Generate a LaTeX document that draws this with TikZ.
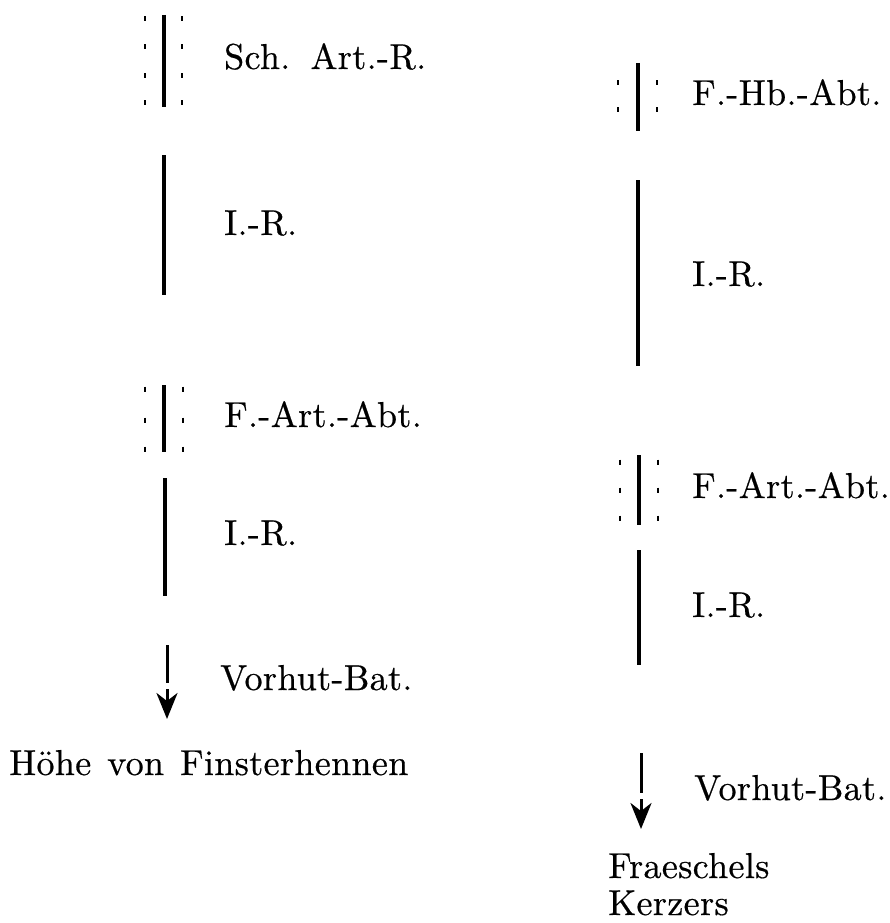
\documentclass[tikz,border=0pt]{standalone}
\usepackage{fontspec}
\newfontfamily\lblfont{lmroman10-regular.otf}[LetterSpace=1,WordSpace=1.3,FakeBold=0.5]
\usetikzlibrary{arrows.meta}
\tikzset{
  unitlbl/.style={anchor=base west, inner sep=0pt, font=\lblfont\fontsize{36}{43}\selectfont},
  troop/.style={line width=3.5pt},
  dotmark/.style={line width=2.2pt},
  march/.style={line width=3pt},
  marchtip/.style={line width=3pt, -{Stealth[length=26pt,width=21pt,inset=8pt]}}
}
\begin{document}
\begin{tikzpicture}[x=1pt,y=-1pt]
\useasboundingbox (0,0) rectangle (889,923);
% ---------- left column ----------
\draw[troop] (164,15) -- (164,107);
\foreach \y in {19,47,76,103}{
  \draw[dotmark] (145,\y-2.5) -- (145,\y+2.5);
  \draw[dotmark] (182,\y-2.5) -- (182,\y+2.5);
}
\node[unitlbl] (l1) at (224,69) {Sch. Art.-R.};

\draw[troop] (164,155) -- (164,295);
\node[unitlbl] (l2) at (224,235) {I.-R.};

\draw[troop] (164,385) -- (164,452);
\foreach \y in {389,420,449}{
  \draw[dotmark] (145,\y-2.5) -- (145,\y+2.5);
  \draw[dotmark] (183,\y-2.5) -- (183,\y+2.5);
}
\node[unitlbl] (l3) at (224,427) {F.-Art.-Abt.};

\draw[troop] (165,478) -- (165,596);
\node[unitlbl] (l4) at (224,545) {I.-R.};

\coordinate (la) at (167,645);
\coordinate (lb) at (167,683);
\coordinate (lc) at (167,689);
\coordinate (ld) at (167,719);
\draw[march] (la) -- (lb);
\draw[marchtip] (lc) -- (ld);
\node[unitlbl] (l5) at (220,690) {Vorhut-Bat.};
\node[unitlbl] (l6) at (9,775) {Höhe von Finsterhennen};

% ---------- right column ----------
\draw[troop] (638,63) -- (638,131);
\foreach \y in {83,110}{
  \draw[dotmark] (618,\y-2.5) -- (618,\y+2.5);
  \draw[dotmark] (657,\y-2.5) -- (657,\y+2.5);
}
\node[unitlbl] (r1) at (692,105) {F.-Hb.-Abt.};

\draw[troop] (638,180) -- (638,366);
\node[unitlbl] (r2) at (692,286) {I.-R.};

\draw[troop] (639,455) -- (639,525);
\foreach \y in {462,490,518}{
  \draw[dotmark] (620,\y-2.5) -- (620,\y+2.5);
  \draw[dotmark] (658,\y-2.5) -- (658,\y+2.5);
}
\node[unitlbl] (r3) at (692,498) {F.-Art.-Abt.};

\draw[troop] (639,550) -- (639,665);
\node[unitlbl] (r4) at (692,617) {I.-R.};

\coordinate (ra) at (641,753);
\coordinate (rb) at (641,793);
\coordinate (rc) at (641,799);
\coordinate (rd) at (641,829);
\draw[march] (ra) -- (rb);
\draw[marchtip] (rc) -- (rd);
\node[unitlbl] (r5) at (694,800) {Vorhut-Bat.};
\node[unitlbl] (r6) at (608,878) {Fraeschels};
\node[unitlbl] (r7) at (608,915) {Kerzers};
\end{tikzpicture}
\end{document}
